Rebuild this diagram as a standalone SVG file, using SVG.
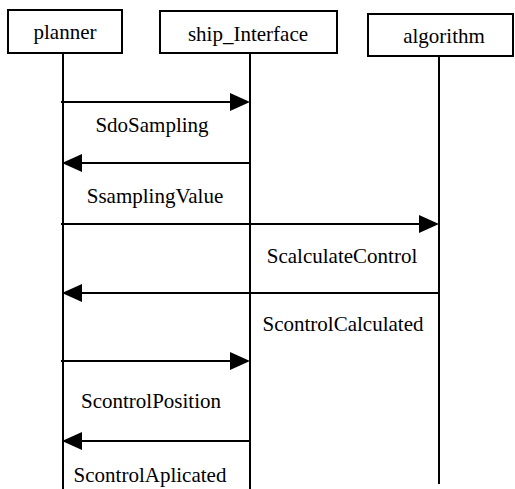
<svg xmlns="http://www.w3.org/2000/svg" width="515" height="489" viewBox="0 0 515 489">
  <defs>
    <style>
      .box { fill: #ffffff; stroke: #000000; stroke-width: 2; }
      .life { stroke: #000000; stroke-width: 2; fill: none; }
      .msg { stroke: #000000; stroke-width: 2; fill: none; }
      .head { fill: #000000; stroke: none; }
      .lbl { font-size: 21px; fill: #000000; text-anchor: middle; }
    </style>
  </defs>
  <rect width="515" height="489" fill="#ffffff"/>

  <g font-family="'Liberation Serif', 'DejaVu Serif', serif">
    <!-- participants -->
    <g id="planner">
      <rect class="box" x="8" y="10" width="114" height="43"/>
      <line class="life" x1="63" y1="53" x2="63" y2="489"/>
      <text class="lbl" x="65" y="39">planner</text>
    </g>
    <g id="ship_Interface">
      <rect class="box" x="160" y="11" width="177" height="42"/>
      <line class="life" x1="250" y1="53" x2="250" y2="489"/>
      <text class="lbl" x="248" y="40.5">ship_Interface</text>
    </g>
    <g id="algorithm">
      <rect class="box" x="368" y="14" width="145" height="42"/>
      <line class="life" x1="439" y1="56" x2="439" y2="484"/>
      <text class="lbl" x="444" y="43">algorithm</text>
    </g>

    <!-- messages -->
    <g id="connectors">
      <line class="msg" x1="61" y1="102" x2="235" y2="102"/>
      <polygon class="head" points="250,102 230,93 230,111"/>

      <line class="msg" x1="250" y1="163" x2="78" y2="163"/>
      <polygon class="head" points="62,163 82,154 82,172"/>

      <line class="msg" x1="61" y1="224" x2="424" y2="224"/>
      <polygon class="head" points="439,224 419,215 419,233"/>

      <line class="msg" x1="439" y1="293" x2="78" y2="293"/>
      <polygon class="head" points="62,293 82,284 82,302"/>

      <line class="msg" x1="61" y1="361" x2="235" y2="361"/>
      <polygon class="head" points="250,361 230,352 230,370"/>

      <line class="msg" x1="250" y1="441" x2="78" y2="441"/>
      <polygon class="head" points="62,441 82,432 82,450"/>
    </g>

    <!-- message labels -->
    <g id="labels">
      <text class="lbl" x="152" y="132">SdoSampling</text>
      <text class="lbl" x="155" y="203">SsamplingValue</text>
      <text class="lbl" x="342" y="263">ScalculateControl</text>
      <text class="lbl" x="343" y="331">ScontrolCalculated</text>
      <text class="lbl" x="151" y="408">ScontrolPosition</text>
      <text class="lbl" x="150" y="482">ScontrolAplicated</text>
    </g>
  </g>
</svg>
